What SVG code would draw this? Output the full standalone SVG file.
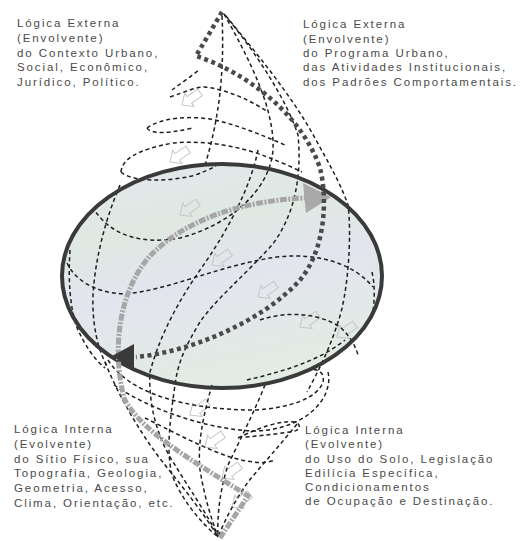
<svg xmlns="http://www.w3.org/2000/svg" width="525" height="541" viewBox="0 0 525 541">
<style>
.t{font-family:"Liberation Sans",Arial,sans-serif;font-size:11.5px;fill:#4a4a4a;letter-spacing:1.9px}
.d{fill:none;stroke:#1e1e1e;stroke-width:1.5;stroke-dasharray:4 3}
.ha{fill:none;stroke:#c6c6c6;stroke-width:1}
</style>
<defs>
<linearGradient id="gf" x1="0" y1="0" x2="0.3" y2="1">
<stop offset="0" stop-color="#e4e9ef"/>
<stop offset="0.35" stop-color="#dfe8e2"/>
<stop offset="0.6" stop-color="#e3e5ee"/>
<stop offset="1" stop-color="#e2ebe4"/>
</linearGradient>
<path id="ar" d="M0,0 L9,-8 L9,-4 L22,-4 L22,4 L9,4 L9,8 Z"/>
</defs>
<rect width="525" height="541" fill="#ffffff"/>

<g id="sphere-fill">
<ellipse cx="222" cy="276" rx="160" ry="112" fill="url(#gf)"/>
</g>

<g id="hollow-arrows" class="ha">
<use href="#ar" transform="translate(180,215) rotate(-35)"/>
<use href="#ar" transform="translate(212,265) rotate(-35)"/>
<use href="#ar" transform="translate(258,297) rotate(-35)"/>
<use href="#ar" transform="translate(300,327) rotate(-35)"/>
<use href="#ar" transform="translate(337,337) rotate(-35)"/>
<use href="#ar" transform="translate(170,162) rotate(-35)"/>
<use href="#ar" transform="translate(182,105) rotate(-35)"/>
<use href="#ar" transform="translate(190,415) rotate(-35)"/>
<use href="#ar" transform="translate(205,447) rotate(-35)"/>
<use href="#ar" transform="translate(222,478) rotate(-35)"/>
<use href="#ar" transform="translate(232,507) rotate(-35)"/>
</g>

<g id="connectors">
<g id="wireframe" class="d">
<path d="M222,16 C224,60 222,110 205,165"/>
<path d="M224,14 C250,60 275,110 273,150 C270,190 230,225 180,238 C140,245 110,235 93,208"/>
<path d="M226,16 C252,48 292,95 316,140 C328,162 340,182 348,205 C352,235 348,295 338,322 C330,348 318,372 307,392"/>
<path d="M224,14 C250,45 285,95 298,135 C302,175 295,215 272,245 C245,275 215,300 200,322 C188,342 178,360 175,385 C170,420 166,450 172,475 C182,500 200,522 218,537"/>
<path d="M258,150 C250,190 225,235 200,270 C178,302 160,335 150,372 C148,405 158,440 175,465 C190,490 208,515 218,537"/>
<path d="M170,97 C185,92 195,87 205,87 C228,90 250,100 268,112"/>
<path d="M172,90 C180,84 190,77 199,70"/>
<path d="M147,128 C160,118 190,115 215,120 C240,126 262,135 285,145"/>
<path d="M147,128 C150,134 168,134 192,128"/>
<path d="M121,172 C122,160 135,150 173,143 C205,140 240,146 270,158 C280,162 292,167 302,172"/>
<path d="M121,172 C132,182 165,182 192,176 C202,173 210,169 216,166"/>
<path d="M120,185 C105,220 95,260 93,295 C92,325 98,350 107,366"/>
<path d="M70,250 C68,280 70,305 76,325 C84,345 95,360 105,368"/>
<path d="M67,263 C75,280 95,293 125,294 C170,290 220,265 277,257 C320,252 355,265 373,287"/>
<path d="M260,320 C290,310 320,314 340,327 C350,336 355,345 358,355"/>
<path d="M247,380 C280,372 318,362 345,340"/>
<path d="M372,272 C375,285 375,300 372,318"/>
<path d="M108,360 C130,395 190,410 255,410 C290,408 318,398 323,382 C325,372 318,368 305,370"/>
<path d="M114,385 C150,410 210,430 255,431 C290,430 315,415 325,395 C328,388 330,380 328,372"/>
<path d="M238,438 C258,428 280,420 296,422 C302,426 300,431 290,432 C275,434 260,436 245,437"/>
<path d="M145,418 C170,430 200,447 230,457 C250,463 265,464 275,460"/>
<path d="M105,362 C120,400 145,440 165,465 C185,490 205,515 218,537"/>
<path d="M212,385 C205,410 197,440 200,470 C205,500 212,520 218,537"/>
<path d="M265,385 C255,410 240,440 228,465 C220,490 217,515 218,537"/>
<path d="M297,424 C280,445 262,465 248,482 C235,500 225,520 218,537"/>
</g>

<g id="sphere-rim">
<ellipse cx="222" cy="276" rx="160" ry="112" fill="none" stroke="#3a3a3a" stroke-width="4"/>
</g>

<g id="gray-path">
<path d="M220,538 L248,496 C200,465 140,432 124,398 C112,350 118,292 150,256 C185,220 240,201 305,198" fill="none" stroke="#a6a6a6" stroke-width="5" stroke-dasharray="7 1.5 2 1.5"/>
<polygon points="303,183 306,213 331,197" fill="#a9a9a9"/>
</g>

<g id="dark-path">
<path d="M222,12 L196,56 C240,70 300,110 320,168 C328,200 325,250 300,280 C262,322 190,352 136,357" fill="none" stroke="#4a4a4a" stroke-width="4.5" stroke-dasharray="4 3.5"/>
<polygon points="112,356 134,344 134,370" fill="#3a3a3a"/>
</g>
</g>

<g id="label-top-left">
<text class="t" x="17" y="27">Lógica Externa</text>
<text class="t" x="17" y="42">(Envolvente)</text>
<text class="t" x="17" y="57">do Contexto Urbano,</text>
<text class="t" x="17" y="71">Social, Econômico,</text>
<text class="t" x="17" y="86">Jurídico, Político.</text>
</g>
<g id="label-top-right">
<text class="t" x="303" y="28">Lógica Externa</text>
<text class="t" x="303" y="43">(Envolvente)</text>
<text class="t" x="303" y="57">do Programa Urbano,</text>
<text class="t" x="303" y="71">das Atividades Institucionais,</text>
<text class="t" x="303" y="86">dos Padrões Comportamentais.</text>
</g>
<g id="label-bottom-left">
<text class="t" x="14" y="433">Lógica Interna</text>
<text class="t" x="14" y="448">(Evolvente)</text>
<text class="t" x="14" y="463">do Sítio Físico, sua</text>
<text class="t" x="14" y="477">Topografia, Geologia,</text>
<text class="t" x="14" y="492">Geometria, Acesso,</text>
<text class="t" x="14" y="507">Clima, Orientação, etc.</text>
</g>
<g id="label-bottom-right">
<text class="t" x="305" y="434">Lógica Interna</text>
<text class="t" x="305" y="448">(Evolvente)</text>
<text class="t" x="305" y="463">do Uso do Solo, Legislação</text>
<text class="t" x="305" y="477">Edilícia Específica,</text>
<text class="t" x="305" y="491">Condicionamentos</text>
<text class="t" x="305" y="505">de Ocupação e Destinação.</text>
</g>
</svg>
